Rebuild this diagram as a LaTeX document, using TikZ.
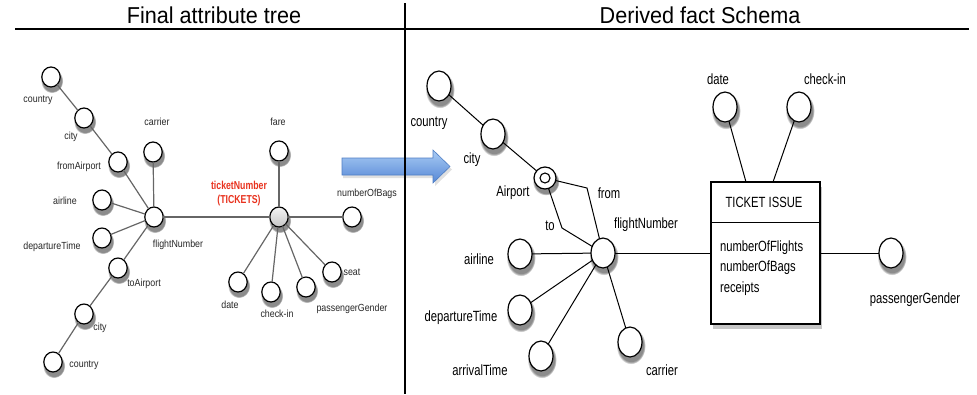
\documentclass[tikz,border=0pt]{standalone}
\usepackage{fontspec}
\setmainfont{Liberation Sans}
\newfontfamily\headfont[FakeStretch=0.94]{Liberation Sans}
\newfontfamily\treefont[FakeStretch=0.86]{Liberation Sans}
\newfontfamily\schemafont[FakeStretch=0.76]{Liberation Sans}
\usetikzlibrary{shapes.geometric,shadows,fadings}

\definecolor{keyred}{HTML}{E8321E}
\definecolor{arrowtop}{HTML}{A9CBF4}
\definecolor{arrowmid}{HTML}{7FAAE8}
\definecolor{arrowbot}{HTML}{5688D6}
\definecolor{arrowrim}{HTML}{4F7EC4}

\tikzset{
  every node/.style={inner sep=0pt, outer sep=0pt},
  softshadow/.style={general shadow={shadow xshift=0.8pt, shadow yshift=-3.2pt,
      shadow scale=1.22, fill=black, opacity=0.45,
      path fading={circle with fuzzy edge 15 percent}}},
  treeattr/.style={ellipse, draw=black, line width=1.2pt, fill=white,
      minimum width=18.4pt, minimum height=20pt, softshadow},
  treeroot/.style={treeattr, fill=none, top color=gray!8, bottom color=gray!45},
  treelabel/.style={font=\treefont\fontsize{10.3}{12}\selectfont, text=black!85},
  treeedge/.style={draw=black!60, line width=1.2pt},
  schattr/.style={ellipse, draw=black, line width=1.2pt, fill=white,
      minimum width=24pt, minimum height=30pt, softshadow},
  schlabel/.style={font=\schemafont\fontsize{14.8}{16}\selectfont},
  schedge/.style={draw=black, line width=1pt},
  rule/.style={draw=black, line width=1.2pt},
  headlabel/.style={font=\headfont\fontsize{23}{26}\selectfont},
  boxshadow/.style={general shadow={shadow xshift=1.5pt, shadow yshift=-5pt,
      fill=black, opacity=0.4, path fading={circle with fuzzy edge 15 percent},
      shadow scale=1.0}, drop shadow={shadow xshift=1pt, shadow yshift=-3pt, opacity=0.3}},
}

\begin{document}
\begin{tikzpicture}[x=1pt, y=-1pt]
\useasboundingbox (0,0) rectangle (977,394);

% ---------------- headings ----------------
\node[headlabel] (headL) at (214,15) {Final attribute tree};
\node[headlabel] (headR) at (700,15) {Derived fact Schema};

% ---------------- block arrow ----------------
\fill[black, opacity=0.12] (343,161) -- (435,161) -- (435,153) -- (452,169.5)
  -- (435,186) -- (435,178) -- (343,178) -- cycle;
\path[draw=arrowrim, line width=0.6pt, top color=arrowtop, middle color=arrowmid,
  bottom color=arrowbot]
  (342,158) -- (433,158) -- (433,150) -- (450,166.5) -- (433,183) -- (433,175)
  -- (342,175) -- cycle;

% ---------------- attribute tree ----------------
\node[treeattr] (lcountryA) at (51,77)  {};
\node[treeattr] (lcityA)    at (84,118) {};
\node[treeattr] (lfrom)     at (118,162) {};
\node[treeattr] (lcarrier)  at (153,152) {};
\node[treeattr] (lairline)  at (102,200) {};
\node[treeattr] (lfn)       at (154,217) {};
\node[treeattr] (ldep)      at (102,238) {};
\node[treeattr] (lto)       at (118,268) {};
\node[treeattr] (lcityB)    at (84,314) {};
\node[treeattr] (lcountryB) at (53,362) {};
\node[treeroot] (lticket)   at (279,217) {};
\node[treeattr] (lfare)     at (279,151) {};
\node[treeattr] (lbags)     at (352,217) {};
\node[treeattr] (ldate)     at (238,282) {};
\node[treeattr] (lcheck)    at (271,292) {};
\node[treeattr] (lgender)   at (306,287) {};
\node[treeattr] (lseat)     at (332,272) {};

\draw[treeedge] (lcountryA) -- (lcityA);
\draw[treeedge] (lcityA) -- (lfrom);
\draw[treeedge] (lfrom) -- (lfn);
\draw[treeedge] (lcarrier) -- (lfn);
\draw[treeedge] (lairline) -- (lfn);
\draw[treeedge] (ldep) -- (lfn);
\draw[treeedge] (lto) -- (lfn);
\draw[treeedge] (lto) -- (lcityB);
\draw[treeedge] (lcityB) -- (lcountryB);
\draw[treeedge] (lfn) -- (lticket);
\draw[treeedge] (lticket) -- (lfare);
\draw[treeedge] (lticket) -- (lbags);
\draw[treeedge] (lticket) -- (ldate);
\draw[treeedge] (lticket) -- (lcheck);
\draw[treeedge] (lticket) -- (lgender);
\draw[treeedge] (lticket) -- (lseat);

\node[treelabel] (tcountryA) at (38,100)  {country};
\node[treelabel] (tcityA)    at (71,137)  {city};
\node[treelabel] (tfrom)     at (79,167)  {fromAirport};
\node[treelabel] (tcarrier)  at (157,122) {carrier};
\node[treelabel] (tairline)  at (65,201)  {airline};
\node[treelabel] (tfn)       at (178,245) {flightNumber};
\node[treelabel] (tdep)      at (52,247)  {departureTime};
\node[treelabel] (tto)       at (144,284) {toAirport};
\node[treelabel] (tcityB)    at (100,328) {city};
\node[treelabel] (tcountryB) at (84,365)  {country};
\node[font=\schemafont\bfseries\fontsize{11.5}{14}\selectfont, text=keyred, align=center]
  (tticket) at (239,194) {ticketNumber\\(TICKETS)};
\node[treelabel] (tfare)     at (278,122) {fare};
\node[treelabel] (tbags)     at (367,194) {numberOfBags};
\node[treelabel] (tdate)     at (230,305) {date};
\node[treelabel] (tcheck)    at (277,314) {check-in};
\node[treelabel] (tgender)   at (352,309) {passengerGender};
\node[treelabel] (tseat)     at (352,272) {seat};

% ---------------- fact schema ----------------
\node[draw=black, line width=1.2pt, fill=white, minimum width=109pt, minimum height=142pt,
  drop shadow={shadow xshift=1.5pt, shadow yshift=-4.5pt, opacity=0.45}]
  (fact) at (765.5,253) {};
\draw[black, line width=1pt] ([yshift=-40pt]fact.north west) -- ([yshift=-40pt]fact.north east);
\node[schlabel] (facttitle) at (764,202) {TICKET ISSUE};
\node[font=\schemafont\fontsize{14.8}{20.5}\selectfont, anchor=west, align=left]
  (factmeasures) at (720,268) {numberOfFlights\\numberOfBags\\receipts};

\node[schattr] (rcountry) at (439,86)  {};
\node[schattr] (rcity)    at (493,134) {};
\node[ellipse, draw=black, line width=1.2pt, fill=white, minimum size=22pt, softshadow]
  (rairport) at (545,178) {};
\node[circle, draw=black, line width=1.1pt, minimum size=10pt] (rairportin) at (545,178) {};
\node[schattr] (rfn)      at (603,253) {};
\node[schattr] (rairline) at (520,254) {};
\node[schattr] (rdep)     at (520,310) {};
\node[schattr] (rarr)     at (541,356) {};
\node[schattr] (rcarrier) at (630,342) {};
\node[schattr] (rdate)    at (725,107) {};
\node[schattr] (rcheck)   at (799,107) {};
\node[schattr] (rgender)  at (891,253) {};

\coordinate (fromBend) at (587,188);
\coordinate (toBend)   at (562,228);
\coordinate (dateFoot) at (746,182);
\coordinate (checkFoot) at (773,182);

\draw[schedge] (rcountry) -- (rcity);
\draw[schedge] (rcity) -- (rairport);
\draw[schedge] (rairport) -- (fromBend) -- (rfn);
\draw[schedge] (rairport) -- (toBend) -- (rfn);
\draw[schedge] (rairline) -- (rfn);
\draw[schedge] (rdep) -- (rfn);
\draw[schedge] (rarr) -- (rfn);
\draw[schedge] (rcarrier) -- (rfn);
\draw[schedge] (rfn) -- (fact);
\draw[schedge] (fact) -- (rgender);
\draw[schedge] (rdate) -- (dateFoot);
\draw[schedge] (rcheck) -- (checkFoot);

\node[schlabel] (scountry) at (429,123) {country};
\node[schlabel] (scity)    at (472,160) {city};
\node[schlabel] (sairport) at (513,193) {Airport};
\node[schlabel] (sfromrole) at (609,193) {from};
\node[schlabel] (storole)  at (550,226) {to};
\node[schlabel] (sfn)      at (646,225) {flightNumber};
\node[schlabel] (sairline) at (479,259) {airline};
\node[schlabel] (sdep)     at (461,318) {departureTime};
\node[schlabel] (sarr)     at (480,370) {arrivalTime};
\node[schlabel] (scarrier) at (662,370) {carrier};
\node[schlabel] (sdate)    at (718,79)  {date};
\node[schlabel] (scheck)   at (825,79)  {check-in};
\node[schlabel] (sgender)  at (915,300) {passengerGender};

% ---------------- panel rules ----------------
\draw[rule] (15,29) -- (969,29);
\draw[rule] (405,3) -- (405,394);
\end{tikzpicture}
\end{document}
